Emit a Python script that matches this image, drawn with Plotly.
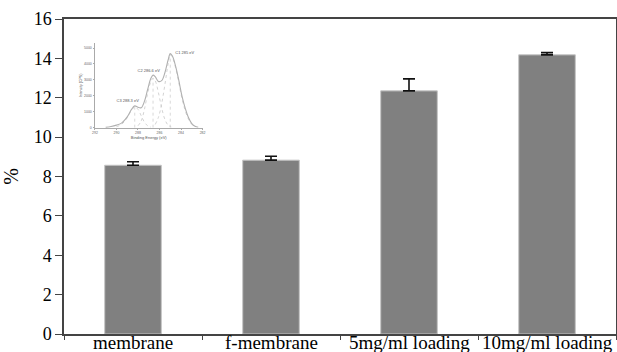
import plotly.graph_objects as go

# ---- main bar chart data ----
categories = ["membrane", "f-membrane", "5mg/ml loading", "10mg/ml loading"]
values = [8.57, 8.83, 12.35, 14.18]
errors = [0.18, 0.20, 0.61, 0.11]
y_ticks = [0, 2, 4, 6, 8, 10, 12, 14, 16]

# ---- inset XPS spectrum ----
be_env = [291.0, 290.5, 290.0, 289.5, 289.0, 288.6, 288.3, 288.0, 287.7, 287.4,
          287.1, 286.8, 286.6, 286.4, 286.1, 285.8, 285.5, 285.2, 285.0, 284.8,
          284.5, 284.2, 283.9, 283.6, 283.3, 283.0, 282.7, 282.4]
int_env = [20, 70, 160, 300, 680, 1150, 1370, 1280, 1250, 1650,
           2400, 3100, 3300, 3200, 2900, 2950, 3450, 4250, 4650, 4500,
           3850, 2950, 1950, 1200, 620, 260, 90, 30]

be_c3 = [290.0, 289.5, 289.0, 288.6, 288.3, 288.0, 287.7, 287.4, 287.1, 286.8]
int_c3 = [60, 220, 620, 1100, 1300, 1150, 750, 350, 120, 30]
be_c2 = [288.0, 287.7, 287.4, 287.1, 286.8, 286.6, 286.4, 286.1, 285.8, 285.5, 285.2, 284.9]
int_c2 = [120, 420, 1150, 2150, 2900, 3100, 2950, 2200, 1250, 520, 160, 40]
be_c1 = [286.4, 286.1, 285.8, 285.5, 285.2, 285.0, 284.8, 284.5, 284.2, 283.9,
         283.6, 283.3, 283.0, 282.7]
int_c1 = [200, 650, 1500, 2700, 4000, 4600, 4420, 3750, 2800, 1800, 1050, 520, 210, 60]

peak_be = [288.3, 286.6, 285.0]
peak_int = [1300, 3100, 4600]
peak_labels = ["C3 288.3 eV", "C2 286.6 eV", "C1 285 eV"]
label_be = [288.95, 287.0, 283.65]
label_int = [1650, 3580, 4700]

inset_xticks = [292, 290, 288, 286, 284, 282]
inset_yticks = [0, 1000, 2000, 3000, 4000, 5000]

fig = go.Figure()

fig.add_trace(go.Bar(
    x=categories, y=values, width=0.41,
    marker=dict(color="#808080", line=dict(color="#c4c4c4", width=1)),
    error_y=dict(type="data", array=errors, symmetric=False, arrayminus=[0]*4,
                 color="#111111", thickness=1.6, width=6),
    xaxis="x", yaxis="y", showlegend=False,
))

# inset traces
for bx, iy in [(be_c3, int_c3), (be_c2, int_c2), (be_c1, int_c1)]:
    fig.add_trace(go.Scatter(x=bx, y=iy, mode="lines", line=dict(color="#c8c8c8", width=0.8, dash="dot", shape="spline"),
                             xaxis="x2", yaxis="y2", showlegend=False))
for pb, pi in zip(peak_be, peak_int):
    fig.add_trace(go.Scatter(x=[pb, pb], y=[0, pi], mode="lines", line=dict(color="#c8c8c8", width=0.7, dash="dot"),
                             xaxis="x2", yaxis="y2", showlegend=False))
fig.add_trace(go.Scatter(x=be_env, y=int_env, mode="lines", line=dict(color="#b0b0b0", width=1.1, shape="spline"),
                         xaxis="x2", yaxis="y2", showlegend=False))
fig.add_trace(go.Scatter(x=label_be, y=label_int, mode="text", text=peak_labels,
                         textfont=dict(family="Liberation Sans", size=4, color="#555555"),
                         xaxis="x2", yaxis="y2", showlegend=False))

# category labels as annotations placed right under the axis
for c in categories:
    fig.add_annotation(x=c, xref="x", y=0, yref="paper", yanchor="top", yshift=3,
                       text=c, showarrow=False, borderpad=0,
                       font=dict(family="Liberation Serif", size=19, color="black"))

fig.update_layout(
    width=617, height=352,
    margin=dict(l=64, r=1, t=19, b=18),
    paper_bgcolor="white", plot_bgcolor="white",
    font=dict(family="Liberation Serif", size=18, color="black"),
    xaxis=dict(domain=[0, 1], type="category", tickson="boundaries", ticks="outside", ticklen=4,
               tickcolor="#444", linecolor="#444", linewidth=1.5, mirror=True, showgrid=False,
               automargin=False, showticklabels=False, range=[-0.5, 3.5]),
    yaxis=dict(domain=[0, 1], range=[0, 16], tickvals=y_ticks, ticks="outside", ticklen=7,
               tickcolor="#444", linecolor="#444", linewidth=1.5, mirror=True, showgrid=False,
               zeroline=False, automargin=False, tickfont=dict(family="Liberation Serif", size=18),
               title=dict(text="%", font=dict(size=20), standoff=12)),
    xaxis2=dict(domain=[0.056, 0.251], anchor="y2", range=[292, 282], tickvals=inset_xticks,
                ticks="outside", ticklen=1.5, tickcolor="#aaa", linecolor="#aaa", linewidth=0.8,
                showgrid=False, zeroline=False, automargin=False,
                tickfont=dict(family="Liberation Sans", size=3.5, color="#666"),
                title=dict(text="Binding Energy (eV)", standoff=1,
                           font=dict(family="Liberation Sans", size=4, color="#555"))),
    yaxis2=dict(domain=[0.655, 0.923], anchor="x2", range=[0, 5300], tickvals=inset_yticks,
                ticks="outside", ticklen=1.5, tickcolor="#aaa", linecolor="#aaa", linewidth=0.8,
                showgrid=False, zeroline=False, automargin=False,
                tickfont=dict(family="Liberation Sans", size=3.5, color="#666"),
                title=dict(text="Intensity (CPS)", standoff=1,
                           font=dict(family="Liberation Sans", size=3.5, color="#555"))),
    bargap=0.59,
)

fig.write_html("out.html", config={"displayModeBar": False},
               post_script="document.body.style.margin='0';document.body.style.padding='0';")
